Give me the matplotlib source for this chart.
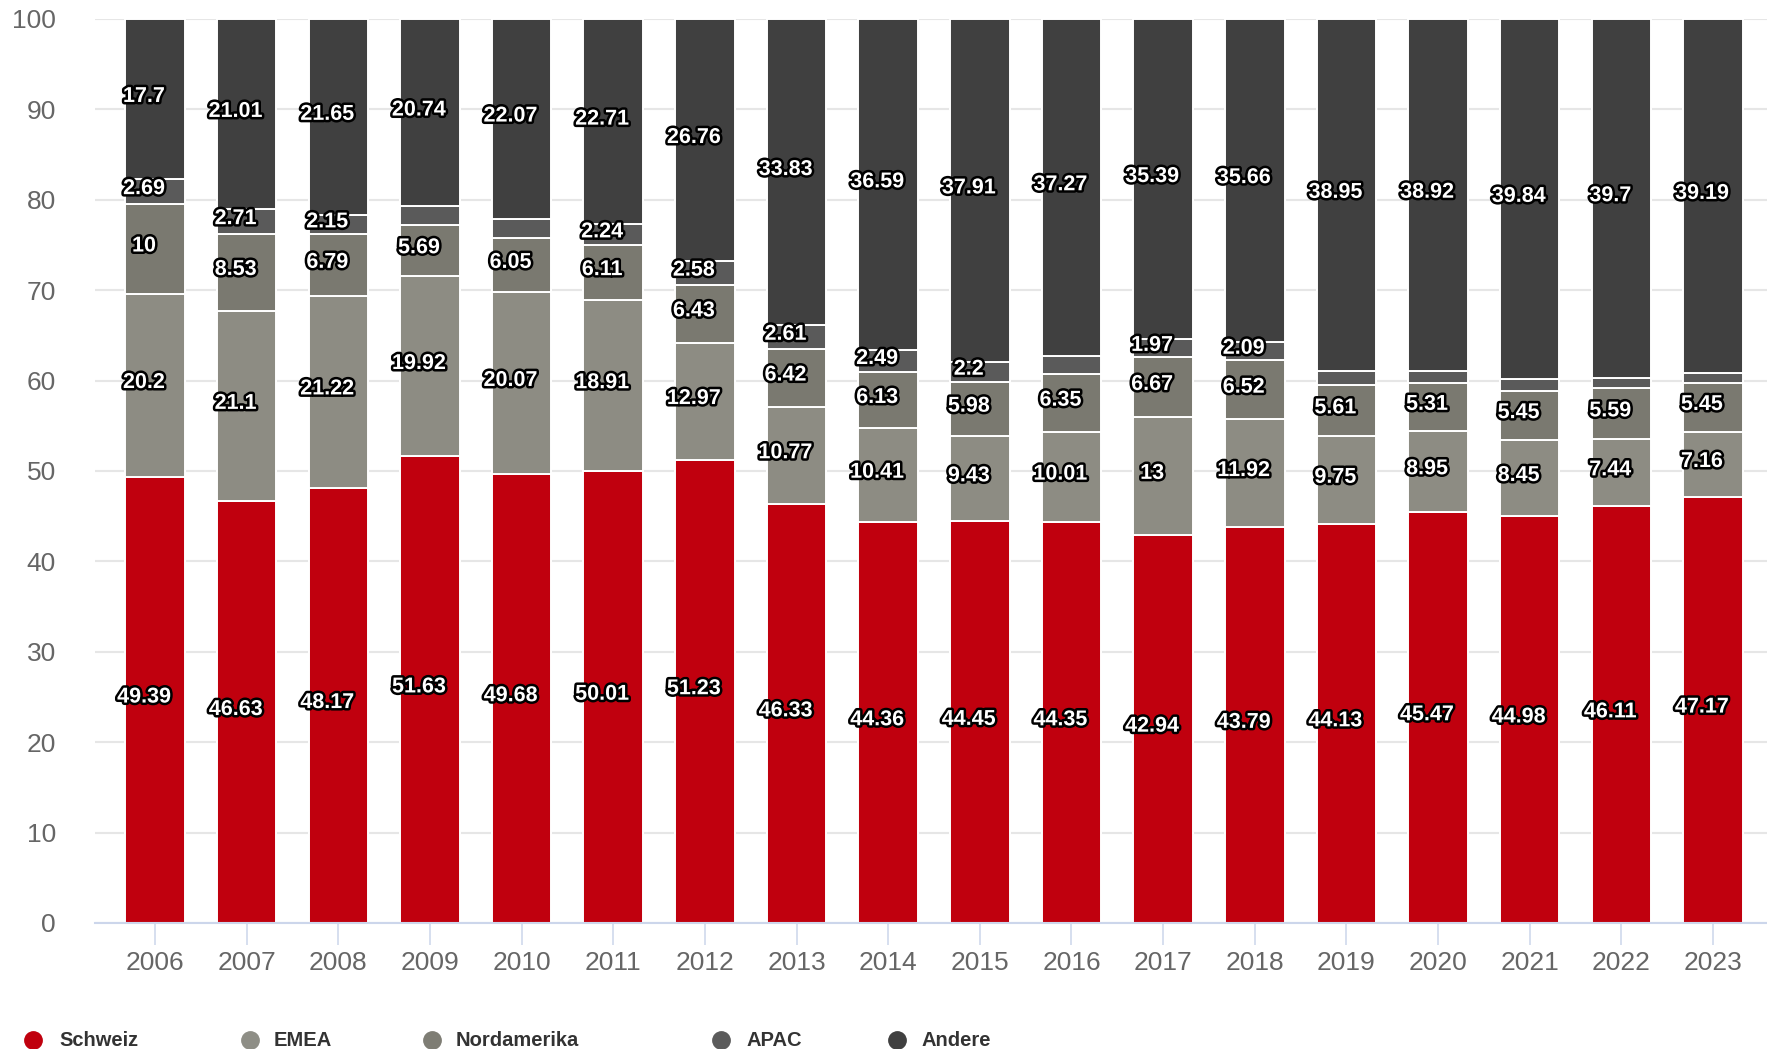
import numpy as np
import matplotlib.pyplot as plt
import matplotlib.patheffects as pe
from matplotlib.lines import Line2D

# Jahre und Anteile (%) pro Region
years = ['2006', '2007', '2008', '2009', '2010', '2011', '2012', '2013', '2014',
         '2015', '2016', '2017', '2018', '2019', '2020', '2021', '2022', '2023']

schweiz = [49.39, 46.63, 48.17, 51.63, 49.68, 50.01, 51.23, 46.33, 44.36,
           44.45, 44.35, 42.94, 43.79, 44.13, 45.47, 44.98, 46.11, 47.17]
emea = [20.2, 21.1, 21.22, 19.92, 20.07, 18.91, 12.97, 10.77, 10.41,
        9.43, 10.01, 13, 11.92, 9.75, 8.95, 8.45, 7.44, 7.16]
nordamerika = [10, 8.53, 6.79, 5.69, 6.05, 6.11, 6.43, 6.42, 6.13,
               5.98, 6.35, 6.67, 6.52, 5.61, 5.31, 5.45, 5.59, 5.45]
apac = [2.69, 2.71, 2.15, 2.02, 2.13, 2.24, 2.58, 2.61, 2.49,
        2.2, 2.02, 1.97, 2.09, 1.56, 1.35, 1.28, 1.16, 1.03]
andere = [17.7, 21.01, 21.65, 20.74, 22.07, 22.71, 26.76, 33.83, 36.59,
          37.91, 37.27, 35.39, 35.66, 38.95, 38.92, 39.84, 39.7, 39.19]

# APAC-Beschriftungen, die im Original sichtbar sind
apac_shown = [True, True, True, False, False, True, True, True, True,
              True, False, True, True, False, False, False, False, False]

series = [
    ('Schweiz', schweiz, '#c0000e'),
    ('EMEA', emea, '#8d8c83'),
    ('Nordamerika', nordamerika, '#7a7970'),
    ('APAC', apac, '#5a5a5a'),
    ('Andere', andere, '#404040'),
]

plt.rcParams['font.family'] = ['Liberation Sans', 'DejaVu Sans']

W, H = 1767, 1049
fig = plt.figure(figsize=(W / 100, H / 100), dpi=100)
ax = fig.add_axes([95 / W, (H - 923) / H, (1773 - 95) / W, (923 - 19) / H])

x = np.arange(len(years))
bottom = np.zeros(len(years))
outline = [pe.withStroke(linewidth=3.6, foreground='black')]

for name, vals, color in series:
    vals = np.array(vals, dtype=float)
    ax.bar(x, vals, width=0.65, bottom=bottom, color=color,
           edgecolor='white', linewidth=1.4, zorder=3)
    for i, v in enumerate(vals):
        if name == 'APAC' and not apac_shown[i]:
            continue
        ax.text(x[i] - 0.12, bottom[i] + v / 2 + 0.3, f'{v:g}',
                ha='center', va='center', fontsize=15.5, fontweight='bold',
                color='white', path_effects=outline, zorder=5)
    bottom += vals

ax.set_xlim(-0.655, len(years) - 1 + 0.655)
ax.set_ylim(0, 100)
ax.set_yticks(np.arange(0, 101, 10))
ax.set_xticks(x)
ax.set_xticklabels(years)

ax.grid(axis='y', color='#e6e6e6', linewidth=1.5, zorder=0)
ax.set_axisbelow(True)
for s in ['top', 'right', 'left']:
    ax.spines[s].set_visible(False)
ax.spines['bottom'].set_color('#ccd6eb')
ax.spines['bottom'].set_linewidth(1.5)
ax.spines['bottom'].set_zorder(4)

ax.tick_params(axis='y', length=0, pad=28, labelsize=19, labelcolor='#666666')
ax.tick_params(axis='x', length=16, width=1.1, color='#ccd6eb', pad=4,
               labelsize=19, labelcolor='#666666')

# Legende
legend_items = [('Schweiz', '#c0000e', 33, 59),
                ('EMEA', '#8e8e86', 250, 274),
                ('Nordamerika', '#7e7d74', 432, 456),
                ('APAC', '#5b5b5b', 721, 746),
                ('Andere', '#404040', 897, 921)]
ly = 1 - 1040 / H
for label, c, mx, tx in legend_items:
    fig.add_artist(Line2D([mx / W], [ly], marker='o', markersize=12.5,
                          color=c, linestyle='none', transform=fig.transFigure))
    fig.text(tx / W, ly, label, ha='left', va='center', fontsize=14.5,
             fontweight='bold', color='#333333')

fig.savefig('out.png', dpi=100)
